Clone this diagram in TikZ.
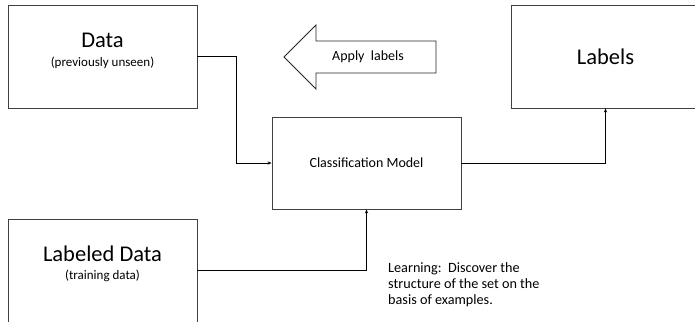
\documentclass[tikz,border=0pt]{standalone}
\usepackage{fontspec}
\setmainfont{Carlito}
\usetikzlibrary{arrows.meta}
\begin{document}
\begin{tikzpicture}[x=1pt,y=1pt,
  box/.style={draw=black!75, line width=0.9pt, inner sep=0pt},
  conn/.style={draw=black, line width=0.8pt, -{Stealth[length=4pt,width=3.2pt]}},
  bigtxt/.style={font=\fontsize{22.5}{24}\selectfont},
  smalltxt/.style={font=\fontsize{13}{15}\selectfont}]
\useasboundingbox (0,0) rectangle (695,-321);
\clip (0,0) rectangle (695,-321);
\node[box, minimum width=189pt, minimum height=103pt] (data) at (102.5,-56.5) {};
\node[bigtxt] (datat) at (102.5,-40) {Data};
\node[smalltxt] (datas) at (102.5,-63) {(previously unseen)};
\node[box, minimum width=189pt, minimum height=103pt] (labels) at (605.5,-56.5) {};
\node[bigtxt] (labelst) at (605.5,-57) {Labels};
\node[box, minimum width=189pt, minimum height=103pt] (ld) at (102.5,-270.5) {};
\node[bigtxt] (ldt) at (102.5,-254) {Labeled Data};
\node[smalltxt] (lds) at (102.5,-276) {(training data)};
\node[box, minimum width=189pt, minimum height=92pt, font=\fontsize{14}{16}\selectfont] (cls) at (366.5,-163) {Classification Model};
\draw[draw=black!85, line width=0.8pt, line join=miter] (284,-57) -- (316,-25) -- (316,-41) -- (436,-41) -- (436,-73) -- (316,-73) -- (316,-89) -- cycle;
\node[font=\fontsize{14}{16}\selectfont] (apply) at (368,-57) {Apply\ \ labels};
\draw[conn] (data.east) -- ++(39,0) |- (cls.west);
\draw[conn] (ld.east) -| (cls.south);
\draw[conn] (cls.east) -| (labels.south);
\node[anchor=north west, align=left, inner sep=0pt, font=\fontsize{14.2}{16}\selectfont] (learn) at (388,-262) {Learning:\ \ Discover the\\structure of the set on the\\basis of examples.};
\end{tikzpicture}
\end{document}
